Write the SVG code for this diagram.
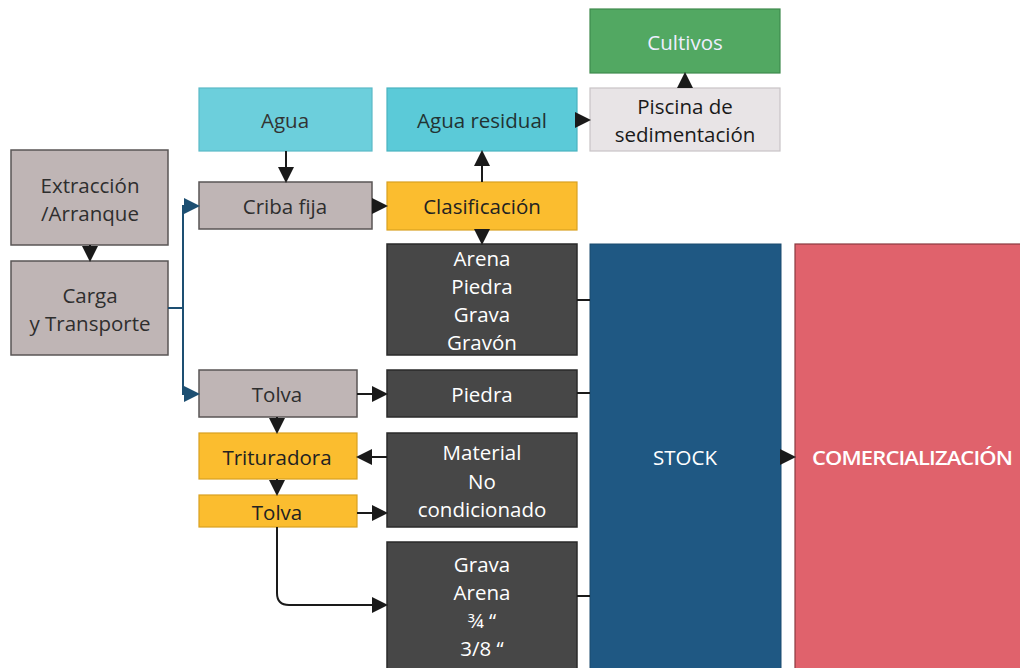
<svg xmlns="http://www.w3.org/2000/svg" width="1020" height="668" viewBox="0 0 1020 668">
<style>
text{font-family:"Open Sans","Noto Sans","Liberation Sans",sans-serif;font-size:20.5px;text-anchor:middle;dominant-baseline:central}
.g rect{fill:#bfb5b5;stroke:#5a5555;stroke-width:1.5}
.g text{fill:#2e2e2e}
.y rect{fill:#fbbd2f;stroke:#d9a020;stroke-width:1.2}
.y text{fill:#222}
.d rect{fill:#474747;stroke:#2a2a2a;stroke-width:1.5}
.d text{fill:#fff}
.c line,.c path{fill:none;stroke:#1a1a1a;stroke-width:2}
.c .b{stroke:#1d4f72}
</style>
<defs>
<marker id="a" markerWidth="8" markerHeight="8" refX="7" refY="4" orient="auto" markerUnits="strokeWidth"><path d="M0,0L8,4L0,8Z" fill="#1a1a1a"/></marker>
<marker id="ab" markerWidth="8" markerHeight="8" refX="7" refY="4" orient="auto" markerUnits="strokeWidth"><path d="M0,0L8,4L0,8Z" fill="#1d4f72"/></marker>
</defs>
<rect width="1020" height="668" fill="#fff"/>
<g id="cultivos"><rect x="590" y="9" width="190" height="64" fill="#52a862" stroke="#3f8a4d" stroke-width="1.2"/><text x="685" y="42" fill="#eef">Cultivos</text></g>
<g id="agua"><rect x="199" y="88" width="173" height="63" fill="#6ccfdc" stroke="#5bbac7" stroke-width="1.2"/><text x="285" y="120" fill="#333">Agua</text></g>
<g id="agua-residual"><rect x="387" y="88" width="190" height="63" fill="#5bcad8" stroke="#4ab3c0" stroke-width="1.2"/><text x="482" y="120" fill="#233">Agua residual</text></g>
<g id="piscina"><rect x="590" y="88" width="190" height="63" fill="#e8e4e6" stroke="#c8c4c6" stroke-width="1.2"/><text x="685" y="106" fill="#1a1a1a">Piscina de</text><text x="685" y="134" fill="#1a1a1a">sedimentación</text></g>
<g id="extraccion" class="g"><rect x="11" y="150" width="157" height="95"/><text x="90" y="185">Extracción</text><text x="90" y="213">/Arranque</text></g>
<g id="carga" class="g"><rect x="11" y="261" width="157" height="94"/><text x="90" y="295">Carga</text><text x="90" y="323">y Transporte</text></g>
<g id="criba" class="g"><rect x="199" y="182" width="173" height="47"/><text x="285" y="206">Criba fija</text></g>
<g id="clasificacion" class="y"><rect x="387" y="182" width="190" height="48"/><text x="482" y="206">Clasificación</text></g>
<g id="arena-box" class="d"><rect x="387" y="244" width="190" height="111"/><text x="482" y="258">Arena</text><text x="482" y="286">Piedra</text><text x="482" y="314">Grava</text><text x="482" y="342">Gravón</text></g>
<g id="tolva1" class="g"><rect x="199" y="370" width="158" height="47"/><text x="277" y="394">Tolva</text></g>
<g id="piedra" class="d"><rect x="387" y="370" width="190" height="47"/><text x="482" y="394">Piedra</text></g>
<g id="trituradora" class="y"><rect x="199" y="433" width="158" height="46"/><text x="277" y="457">Trituradora</text></g>
<g id="material" class="d"><rect x="387" y="433" width="190" height="94"/><text x="482" y="452">Material</text><text x="482" y="481">No</text><text x="482" y="509">condicionado</text></g>
<g id="tolva2" class="y"><rect x="199" y="495" width="158" height="32"/><text x="277" y="512">Tolva</text></g>
<g id="grava-box" class="d"><rect x="387" y="542" width="190" height="140"/><text x="482" y="564">Grava</text><text x="482" y="592">Arena</text><text x="482" y="620">¾ “</text><text x="482" y="648">3/8 “</text></g>
<g id="stock"><rect x="590" y="244" width="191" height="440" fill="#1f5883" stroke="#1a4a6e" stroke-width="1"/><text x="685" y="457" fill="#fff">STOCK</text></g>
<g id="comercializacion"><rect x="795" y="244" width="240" height="440" fill="#e0626c" stroke="#8a3a40" stroke-width="1.2"/><text x="912" y="457" fill="#fff" font-weight="600" letter-spacing="-0.8" textLength="200" lengthAdjust="spacingAndGlyphs">COMERCIALIZACIÓN</text></g>
<g id="connectors" class="c">
<line x1="90" y1="245" x2="90" y2="260" marker-end="url(#a)"/>
<path class="b" d="M168,308H183V206H198" marker-end="url(#ab)"/>
<path class="b" d="M183,308V394H198" marker-end="url(#ab)"/>
<line x1="286" y1="151" x2="286" y2="181" marker-end="url(#a)"/>
<line x1="372" y1="206" x2="386" y2="206" marker-end="url(#a)"/>
<line x1="482" y1="182" x2="482" y2="152" marker-end="url(#a)"/>
<line x1="482" y1="230" x2="482" y2="243" marker-end="url(#a)"/>
<line x1="577" y1="120" x2="589" y2="120" marker-end="url(#a)"/>
<line x1="685" y1="88" x2="685" y2="74" marker-end="url(#a)"/>
<line x1="357" y1="394" x2="386" y2="394" marker-end="url(#a)"/>
<line x1="277" y1="417" x2="277" y2="432" marker-end="url(#a)"/>
<line x1="387" y1="457" x2="358" y2="457" marker-end="url(#a)"/>
<line x1="277" y1="479" x2="277" y2="494" marker-end="url(#a)"/>
<line x1="357" y1="513" x2="386" y2="513" marker-end="url(#a)"/>
<path d="M277,527V593Q277,605 289,605H386" marker-end="url(#a)"/>
<line x1="577" y1="300" x2="590" y2="300"/>
<line x1="577" y1="393" x2="590" y2="393"/>
<line x1="577" y1="596" x2="590" y2="596"/>
<line x1="781" y1="457" x2="794" y2="457" marker-end="url(#a)"/>
</g>
</svg>
